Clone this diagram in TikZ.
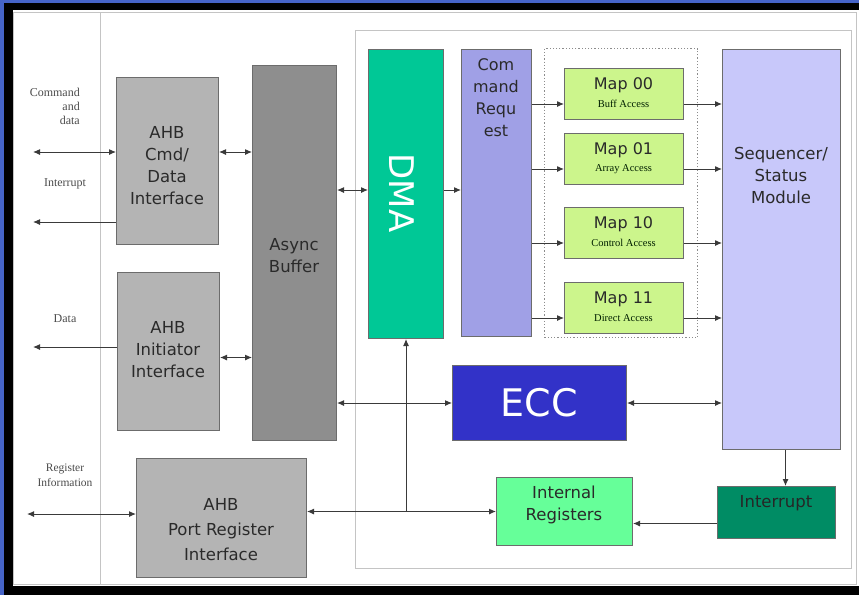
\documentclass[tikz,border=0pt]{standalone}
\usepackage{fontspec}
\usetikzlibrary{arrows.meta}
\newfontfamily\boxfont{DejaVu Sans}
\newfontfamily\lblfont{Liberation Serif}
\definecolor{bgblue}{HTML}{4664C8}
\definecolor{ahbgray}{HTML}{B4B4B4}
\definecolor{asyncgray}{HTML}{8E8E8E}
\definecolor{dmagreen}{HTML}{00C896}
\definecolor{reqlav}{HTML}{A0A0E6}
\definecolor{mapgreen}{HTML}{CCF58C}
\definecolor{seqlav}{HTML}{C8C8FA}
\definecolor{eccblue}{HTML}{3232C8}
\definecolor{irqgreen}{HTML}{008C64}
\definecolor{iregreen}{HTML}{66FF99}
\definecolor{framegray}{HTML}{C4C4C4}
\definecolor{linegray}{HTML}{3A3A3A}
\definecolor{txtgray}{HTML}{2A2A2A}
\tikzset{
  blk/.style={draw=gray!85!black, line width=1pt, inner sep=0pt, anchor=north west},
  boxtxt/.style={font=\boxfont\fontsize{16.5}{22}\selectfont, text=txtgray, align=center, inner sep=0pt},
  lbl/.style={font=\lblfont\fontsize{12}{14}\selectfont, text=black!70, inner sep=0pt},
  smalllbl/.style={font=\lblfont\fontsize{10.5}{12}\selectfont, text=black!70!green!40!black, inner sep=0pt},
  conn/.style={draw=linegray, line width=1pt},
  arr/.style={conn, -{Latex[length=7pt,width=6pt]}},
  dbl/.style={conn, {Latex[length=7pt,width=6pt]}-{Latex[length=7pt,width=6pt]}},
}
\begin{document}
\begin{tikzpicture}[x=1pt,y=-1pt]
\useasboundingbox (0,0) rectangle (859,595);
% slide background and frame
\fill[bgblue] (0,0) rectangle (859,595);
\fill[black] (4,3) rectangle (859,595);
\fill[white] (13,10) rectangle (859,586);
\draw[framegray, line width=1pt] (13.5,12) rectangle (856,584);
\draw[framegray, line width=1pt] (100,12) -- (100,584);
\draw[framegray, line width=1pt] (355,30) rectangle (851,568);

% blocks
\node[blk, fill=ahbgray, minimum width=102pt, minimum height=167pt] (cmd) at (116,77) {};
\node[boxtxt] at (167,166) {AHB\\Cmd/\\Data\\Interface};
\node[blk, fill=ahbgray, minimum width=102pt, minimum height=158pt] (init) at (117,272) {};
\node[boxtxt] at (168,350) {AHB\\Initiator\\Interface};
\node[blk, fill=asyncgray, minimum width=84pt, minimum height=375pt] (async) at (252,65) {};
\node[boxtxt] at (294,256) {Async\\Buffer};
\node[blk, fill=ahbgray, minimum width=170pt, minimum height=119pt] (port) at (136,458) {};
\node[boxtxt, font=\boxfont\fontsize{16.5}{25}\selectfont] at (221,530) {AHB\\Port Register\\Interface};

\node[blk, fill=dmagreen, minimum width=75pt, minimum height=289pt] (dma) at (368,49) {};
\node[font=\boxfont\fontsize{34}{34}\selectfont, text=white, rotate=-90, inner sep=0pt] at (402,193) {DMA};
\node[blk, fill=reqlav, minimum width=70pt, minimum height=287pt] (req) at (461,49) {};
\node[boxtxt, font=\boxfont\fontsize{16}{22}\selectfont, anchor=north] at (496,58) {Com\\mand\\Requ\\est};

\node[draw=gray!90, dotted, line width=1.2pt, inner sep=0pt, anchor=north west, minimum width=153pt, minimum height=289pt] (grp) at (544,48) {};

\node[blk, fill=mapgreen, minimum width=119pt, minimum height=51pt] (m00) at (564,68) {};
\node[boxtxt, font=\boxfont\fontsize{16}{18}\selectfont] at (623.5,85) {Map 00};
\node[smalllbl] at (623.5,104) {Buff Access};
\node[blk, fill=mapgreen, minimum width=119pt, minimum height=51pt] (m01) at (564,133) {};
\node[boxtxt, font=\boxfont\fontsize{16}{18}\selectfont] at (623.5,150) {Map 01};
\node[smalllbl] at (623.5,169) {Array Access};
\node[blk, fill=mapgreen, minimum width=119pt, minimum height=51pt] (m10) at (564,207) {};
\node[boxtxt, font=\boxfont\fontsize{16}{18}\selectfont] at (623.5,224) {Map 10};
\node[smalllbl] at (623.5,243) {Control Access};
\node[blk, fill=mapgreen, minimum width=119pt, minimum height=51pt] (m11) at (564,282) {};
\node[boxtxt, font=\boxfont\fontsize{16}{18}\selectfont] at (623.5,299) {Map 11};
\node[smalllbl] at (623.5,318) {Direct Access};

\node[blk, fill=seqlav, minimum width=118pt, minimum height=400pt] (seq) at (722,49) {};
\node[boxtxt] at (781,175) {Sequencer/\\Status\\Module};

\node[blk, fill=eccblue, minimum width=174pt, minimum height=75pt] (ecc) at (452,365) {};
\node[font=\boxfont\fontsize{38}{38}\selectfont, text=white, inner sep=0pt] at (539,403) {ECC};

\node[blk, fill=irqgreen, minimum width=118pt, minimum height=52pt] (irq) at (717,486) {};
\node[boxtxt, text=black!85] at (776,503) {Interrupt};
\node[blk, fill=iregreen, minimum width=136pt, minimum height=68pt] (ireg) at (496,477) {};
\node[boxtxt] at (564,505) {Internal\\Registers};

% external labels
\node[lbl, align=right, anchor=north east] at (80,88) {Command\\and\\data};
\node[lbl] at (65,184) {Interrupt};
\node[lbl] at (65,319) {Data};
\node[lbl, align=center, font=\lblfont\fontsize{11.5}{15}\selectfont] at (65,475) {Register\\Information};

% free ends
\coordinate (cmdL) at (33,152);
\coordinate (intL) at (33,222);
\coordinate (dataL) at (33,347);
\coordinate (regL) at (27,514);

% connectors
\draw[dbl] (cmdL) -- (cmdL -| cmd.west);
\draw[arr] (intL -| cmd.west) -- (intL);
\draw[dbl] (cmd.east |- cmdL) -- (async.west |- cmdL);
\draw[arr] (dataL -| init.west) -- (dataL);
\draw[dbl] ([yshift=-6pt]init.east) -- ([yshift=-6pt]init.east -| async.west);
\draw[dbl] ([yshift=4pt]dma.west -| async.east) -- ([yshift=4pt]dma.west);
\draw[arr] ([yshift=4pt]dma.east) -- ([yshift=4pt]dma.east -| req.west);
\foreach \m in {m00,m01,m10,m11}{
  \draw[arr] ([yshift=-10pt]\m.west -| req.east) -- ([yshift=-10pt]\m.west);
  \draw[arr] ([yshift=-10pt]\m.east) -- ([yshift=-10pt]\m.east -| seq.west);
}
\draw[dbl] (ecc.west -| async.east) -- (ecc.west);
\draw[dbl] (ecc.east) -- (ecc.east -| seq.west);
\draw[arr] ([xshift=4pt]seq.south) -- ([xshift=4pt]seq.south |- irq.north);
\draw[arr] ([yshift=-11pt]irq.west) -- ([yshift=-11pt]irq.west -| ireg.east);
\draw[dbl] (regL) -- (regL -| port.west);
\draw[dbl] (ireg.west -| port.east) -- (ireg.west);
\coordinate (junc) at (dma.south |- ireg.west);
\draw[arr] (junc) -- (dma.south);
\end{tikzpicture}
\end{document}
